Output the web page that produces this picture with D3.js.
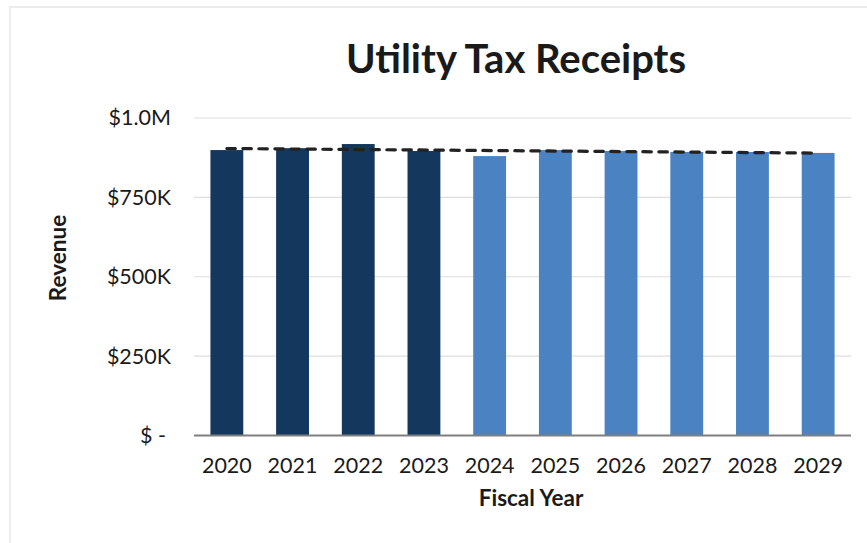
<!DOCTYPE html>
<html>
<head>
<meta charset="utf-8">
<script src="https://cdn.jsdelivr.net/npm/d3@7"></script>
<style>
  html, body { margin: 0; padding: 0; background: #fff; }
  svg { display: block; }
  text { font-family: Lato, "Open Sans", sans-serif; fill: #1a1a1a; }
</style>
</head>
<body>
<svg id="chart" width="867" height="543"></svg>
<script>
// ---- data ----
const years = ["2020","2021","2022","2023","2024","2025","2026","2027","2028","2029"];
const revenue = [899000, 905000, 918000, 896000, 880000, 899000, 896000, 893000, 893000, 890000];
const isActual = [true, true, true, true, false, false, false, false, false, false];
const trendYears = ["2020", "2029"];
const trendValues = [904000, 889500];
const yTickValues = [0, 250000, 500000, 750000, 1000000];
const yTickLabels = ["$ -", "$250K", "$500K", "$750K", "$1.0M"];
const titleText = "Utility Tax Receipts";
const xTitle = "Fiscal Year";
const yTitle = "Revenue";

// ---- layout ----
const svg = d3.select("#chart");
const W = 867, H = 543;
const plot = { left: 194, right: 851, top: 118, bottom: 435.5 };
const colActual = "#14375D", colProj = "#4A82C2";

// outer chart border
svg.append("path")
  .attr("d", `M10,${H} L10,7 L${W},7`)
  .attr("fill", "none")
  .attr("stroke", "#ececec")
  .attr("stroke-width", 2);

const x = d3.scaleBand().domain(years).range([plot.left, plot.right]).paddingInner(0.5).paddingOuter(0.25);
const y = d3.scaleLinear().domain([0, 1000000]).range([plot.bottom, plot.top]);

// gridlines
svg.append("g")
  .selectAll("line")
  .data(yTickValues.filter(v => v > 0))
  .join("line")
  .attr("x1", plot.left).attr("x2", plot.right)
  .attr("y1", d => y(d)).attr("y2", d => y(d))
  .attr("stroke", "#dedede").attr("stroke-width", 1.2);

// y tick labels
const yAxis = d3.axisLeft(y).tickValues(yTickValues)
  .tickFormat((d, i) => yTickLabels[i]).tickSize(0).tickPadding(23);
const gy = svg.append("g").attr("transform", `translate(${plot.left},0)`).call(yAxis);
gy.select(".domain").remove();
gy.selectAll("text").style("font-size", "21.5px").attr("fill", "#1a1a1a")
  .attr("dx", (d) => d === 0 ? -5 : 0);

// bars
svg.append("g")
  .selectAll("rect")
  .data(years)
  .join("rect")
  .attr("x", d => x(d))
  .attr("width", x.bandwidth())
  .attr("y", (d, i) => y(revenue[i]))
  .attr("height", (d, i) => y(0) - y(revenue[i]))
  .attr("fill", (d, i) => isActual[i] ? colActual : colProj);

// x axis
const xAxis = d3.axisBottom(x).tickSize(0).tickPadding(22);
const gx = svg.append("g").attr("transform", `translate(0,${plot.bottom})`).call(xAxis);
gx.select(".domain").attr("stroke", "#7f7f7f").attr("stroke-width", 2)
  .attr("d", `M${plot.left},0H${plot.right}`);
gx.selectAll("text").style("font-size", "21.5px").attr("fill", "#1a1a1a");

// trend line
const line = d3.line()
  .x((d, i) => x(trendYears[i]) + x.bandwidth() / 2)
  .y(d => y(d));
svg.append("path")
  .datum(trendValues)
  .attr("d", line)
  .attr("fill", "none")
  .attr("stroke", "#222")
  .attr("stroke-width", 3.2)
  .attr("stroke-linecap", "round")
  .attr("stroke-dasharray", "8.5,7.5");

// titles
svg.append("text")
  .attr("x", 516).attr("y", 73)
  .attr("text-anchor", "middle")
  .style("font-size", "40px").style("font-weight", "bold")
  .text(titleText);

svg.append("text")
  .attr("x", 531).attr("y", 506)
  .attr("text-anchor", "middle")
  .style("font-size", "22.5px").style("font-weight", "bold")
  .text(xTitle);

svg.append("text")
  .attr("transform", "translate(66,258) rotate(-90)")
  .attr("text-anchor", "middle")
  .style("font-size", "22.5px").style("font-weight", "bold")
  .text(yTitle);
</script>
</body>
</html>
